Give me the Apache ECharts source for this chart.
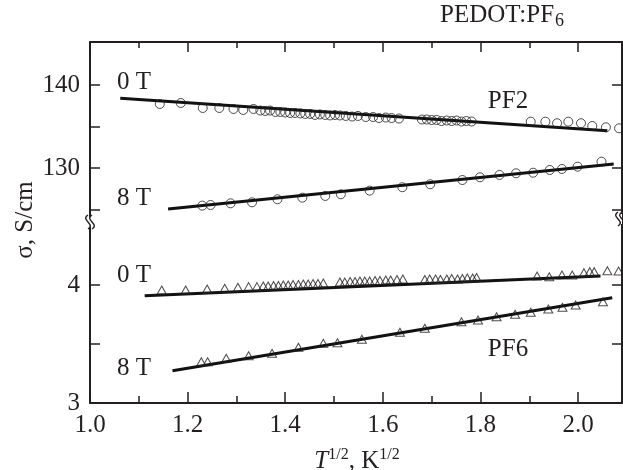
<!DOCTYPE html>
<html>
<head>
<meta charset="utf-8">
<script src="https://cdn.jsdelivr.net/npm/echarts@6/dist/echarts.min.js"></script>
<style>
  html, body { margin: 0; padding: 0; background: #fff; }
  #chart { width: 623px; height: 470px; }
</style>
</head>
<body>
<div id="chart"></div>
<script>
// Conductivity of PEDOT:PF6 versus T^(1/2) at 0 T and 8 T (PF2 and PF6 samples)

// x: T^(1/2), K^(1/2); y: sigma, S/cm
const pf2ZeroT = [
  [1.143, 137.71], [1.186, 137.83], [1.231, 137.23], [1.265, 137.23], [1.294, 137.11],
  [1.314, 136.99], [1.335, 137.11], [1.349, 136.92], [1.359, 136.87], [1.369, 136.92],
  [1.380, 136.75], [1.390, 136.75], [1.400, 136.69], [1.410, 136.63], [1.420, 136.63],
  [1.431, 136.57], [1.441, 136.51], [1.451, 136.51], [1.461, 136.39], [1.471, 136.45],
  [1.482, 136.39], [1.492, 136.33], [1.502, 136.39], [1.512, 136.33], [1.524, 136.27],
  [1.537, 136.20], [1.549, 136.27], [1.565, 136.14], [1.580, 136.14], [1.592, 136.02],
  [1.606, 136.08], [1.618, 136.02], [1.633, 135.96], [1.680, 135.84], [1.690, 135.84],
  [1.700, 135.78], [1.710, 135.78], [1.720, 135.66], [1.731, 135.72], [1.741, 135.66],
  [1.751, 135.72], [1.761, 135.60], [1.771, 135.66], [1.782, 135.60], [1.903, 135.58],
  [1.933, 135.58], [1.957, 135.39], [1.980, 135.58], [2.006, 135.39], [2.029, 135.06],
  [2.057, 134.90], [2.084, 134.78]
];
const pf2EightT = [
  [1.230, 125.46], [1.247, 125.54], [1.288, 125.74], [1.332, 125.86], [1.384, 126.23],
  [1.435, 126.42], [1.482, 126.63], [1.514, 126.83], [1.573, 127.27], [1.640, 127.68],
  [1.697, 128.04], [1.763, 128.55], [1.799, 128.88], [1.839, 129.16], [1.873, 129.36],
  [1.908, 129.43], [1.942, 129.76], [1.967, 129.88], [1.999, 130.16], [2.048, 130.76]
];
const pf6ZeroT = [
  [1.147, 3.958], [1.196, 3.958], [1.240, 3.966], [1.276, 3.972], [1.303, 3.981],
  [1.325, 3.986], [1.342, 3.986], [1.355, 3.992], [1.365, 3.992], [1.376, 3.996],
  [1.386, 3.996], [1.396, 4.000], [1.406, 4.000], [1.416, 4.004], [1.427, 4.004],
  [1.437, 4.008], [1.447, 4.008], [1.457, 4.013], [1.467, 4.013], [1.478, 4.017],
  [1.512, 4.025], [1.522, 4.025], [1.533, 4.030], [1.543, 4.030], [1.553, 4.034],
  [1.563, 4.034], [1.573, 4.034], [1.584, 4.038], [1.594, 4.038], [1.606, 4.042],
  [1.616, 4.042], [1.629, 4.047], [1.641, 4.051], [1.686, 4.047], [1.696, 4.051],
  [1.708, 4.051], [1.718, 4.047], [1.731, 4.051], [1.741, 4.055], [1.753, 4.051],
  [1.763, 4.055], [1.773, 4.059], [1.784, 4.059], [1.792, 4.064], [1.916, 4.076],
  [1.941, 4.070], [1.967, 4.085], [1.988, 4.085], [2.012, 4.104], [2.024, 4.113],
  [2.033, 4.113], [2.060, 4.121], [2.083, 4.119]
];
const pf6EightT = [
  [1.228, 3.350], [1.241, 3.350], [1.279, 3.379], [1.325, 3.401], [1.373, 3.421],
  [1.427, 3.472], [1.478, 3.506], [1.507, 3.511], [1.557, 3.540], [1.635, 3.599],
  [1.686, 3.633], [1.761, 3.689], [1.795, 3.703], [1.833, 3.731], [1.871, 3.752],
  [1.903, 3.769], [1.939, 3.797], [1.968, 3.811], [1.995, 3.831], [2.051, 3.858]
];

// straight-line fits through each data set
const pf2ZeroTFit = [[1.062, 138.40], [2.060, 134.49]];
const pf2EightTFit = [[1.160, 125.06], [2.073, 130.48]];
const pf6ZeroTFit = [[1.112, 3.909], [2.046, 4.076]];
const pf6EightTFit = [[1.169, 3.274], [2.070, 3.892]];

// axis ticks and labels
const xMajorTicks = [1.0, 1.2, 1.4, 1.6, 1.8, 2.0];
const xMinorTicks = [1.1, 1.3, 1.5, 1.7, 1.9];
const upperTicks = [125, 130, 135, 140];
const upperRightTicks = [125, 130, 140];
const upperLabels = [130, 140];
const lowerTicks = [3, 3.5, 4];
const lowerLabels = [3, 4];

const X_MIN = 1.0, X_MAX = 2.09;
const UPPER_MIN = 123.49, UPPER_MAX = 145.18;
const LOWER_MIN = 3.0, LOWER_MAX = 4.534;

const INK = '#231f20';
const FAMILY = '"Liberation Serif", "Times New Roman", serif';
const FS = 25;

function xAxisCfg(grid, pos, ticks, len, withLine, withLabels) {
  return {
    type: 'value', gridIndex: grid, position: pos, min: X_MIN, max: X_MAX, interval: 0.1,
    axisLine: { show: withLine, onZero: false, lineStyle: { color: INK, width: 2 } },
    axisTick: { show: true, inside: true, length: len, customValues: ticks,
                lineStyle: { color: INK, width: 1.5 } },
    axisLabel: withLabels ? {
      show: true, customValues: xMajorTicks, margin: 10,
      formatter: v => v.toFixed(1),
      color: INK, fontFamily: FAMILY, fontSize: FS
    } : { show: false },
    splitLine: { show: false }
  };
}

function yAxisCfg(grid, pos, min, max, ticks, labels) {
  return {
    type: 'value', gridIndex: grid, position: pos, min: min, max: max,
    axisLine: { show: true, onZero: false, lineStyle: { color: INK, width: 2 } },
    axisTick: { show: true, inside: true, length: 10, customValues: ticks,
                lineStyle: { color: INK, width: 1.5 } },
    axisLabel: labels ? {
      show: true, customValues: labels, margin: 10,
      formatter: v => String(v),
      color: INK, fontFamily: FAMILY, fontSize: FS
    } : { show: false },
    splitLine: { show: false }
  };
}

function points(data, xi, yi, symbol, size) {
  return {
    type: 'scatter', xAxisIndex: xi, yAxisIndex: yi, data: data,
    symbol: symbol, symbolSize: size, z: 3,
    itemStyle: { color: 'rgba(0,0,0,0)', borderColor: INK, borderWidth: 1 }
  };
}

function fit(data, xi, yi) {
  return {
    type: 'line', xAxisIndex: xi, yAxisIndex: yi, data: data,
    showSymbol: false, symbol: 'none', z: 2,
    lineStyle: { color: '#111', width: 3 }
  };
}

function label(text, x, y) {
  return {
    type: 'text', x: x, y: y, z: 10,
    style: { text: text, fill: INK, fontFamily: FAMILY, fontSize: FS, align: 'center', verticalAlign: 'middle' }
  };
}

// a vertical double-wave drawn across an axis line where the scale is broken
function breakMark(cx, cy) {
  const wave = dx => ({
    type: 'bezierCurve', z: 11,
    shape: { x1: cx + dx, y1: cy - 7, x2: cx + dx, y2: cy + 7,
             cpx1: cx + dx - 8, cpy1: cy - 2, cpx2: cx + dx + 8, cpy2: cy + 2 },
    style: { stroke: INK, lineWidth: 1.4, fill: null }
  });
  return [
    { type: 'rect', z: 10, shape: { x: cx - 2, y: cy - 5, width: 4, height: 10 }, style: { fill: '#fff' } },
    wave(-2), wave(2)
  ];
}

const chart = echarts.init(document.getElementById('chart'), null, { renderer: 'canvas' });

chart.setOption({
  animation: false,
  backgroundColor: '#fff',
  grid: [
    { left: 90, right: 1, top: 42, height: 180 },
    { left: 90, right: 1, top: 222, height: 181 }
  ],
  xAxis: [
    xAxisCfg(0, 'top', xMajorTicks, 10, true, false),
    xAxisCfg(0, 'top', xMinorTicks, 6, false, false),
    xAxisCfg(1, 'bottom', xMajorTicks, 11, true, true),
    xAxisCfg(1, 'bottom', xMinorTicks, 7, false, false)
  ],
  yAxis: [
    yAxisCfg(0, 'left', UPPER_MIN, UPPER_MAX, upperTicks, upperLabels),
    yAxisCfg(0, 'right', UPPER_MIN, UPPER_MAX, upperRightTicks, null),
    yAxisCfg(1, 'left', LOWER_MIN, LOWER_MAX, lowerTicks, lowerLabels),
    yAxisCfg(1, 'right', LOWER_MIN, LOWER_MAX, lowerTicks, null)
  ],
  series: [
    fit(pf2ZeroTFit, 0, 0),
    fit(pf2EightTFit, 0, 0),
    points(pf2ZeroT, 0, 0, 'circle', 9),
    points(pf2EightT, 0, 0, 'circle', 9),
    fit(pf6ZeroTFit, 2, 2),
    fit(pf6EightTFit, 2, 2),
    points(pf6ZeroT, 2, 2, 'triangle', [9, 8]),
    points(pf6EightT, 2, 2, 'triangle', [9, 8])
  ],
  graphic: [
    label('0 T', 134, 82),
    label('8 T', 134, 198),
    label('0 T', 134, 275),
    label('8 T', 134, 368),
    label('PF2', 508, 101),
    label('PF6', 508, 349),
    {
      type: 'text', x: 440, y: 15, z: 10,
      style: {
        text: '{m|PEDOT:PF}{s|6}', fill: INK, align: 'left', verticalAlign: 'middle',
        rich: {
          m: { fontFamily: FAMILY, fontSize: FS, fill: INK, lineHeight: 30 },
          s: { fontFamily: FAMILY, fontSize: 18, fill: INK, lineHeight: 30, verticalAlign: 'bottom', padding: [0, 0, 0, 1] }
        }
      }
    },
    {
      type: 'text', x: 25, y: 220, rotation: Math.PI / 2, z: 10,
      style: { text: 'σ, S/cm', fill: INK, fontFamily: FAMILY, fontSize: FS, align: 'center', verticalAlign: 'middle' }
    },
    {
      type: 'text', x: 357, y: 461, z: 10,
      style: {
        text: '{i|T}{s|1/2}{m|, K}{s|1/2}', fill: INK, align: 'center', verticalAlign: 'middle',
        rich: {
          i: { fontFamily: FAMILY, fontStyle: 'italic', fontSize: FS, fill: INK, lineHeight: 28 },
          m: { fontFamily: FAMILY, fontSize: FS, fill: INK, lineHeight: 28 },
          s: { fontFamily: FAMILY, fontSize: 16, fill: INK, lineHeight: 16, verticalAlign: 'top' }
        }
      }
    }
  ].concat(breakMark(90, 222), breakMark(620, 219))
});
</script>
</body>
</html>
